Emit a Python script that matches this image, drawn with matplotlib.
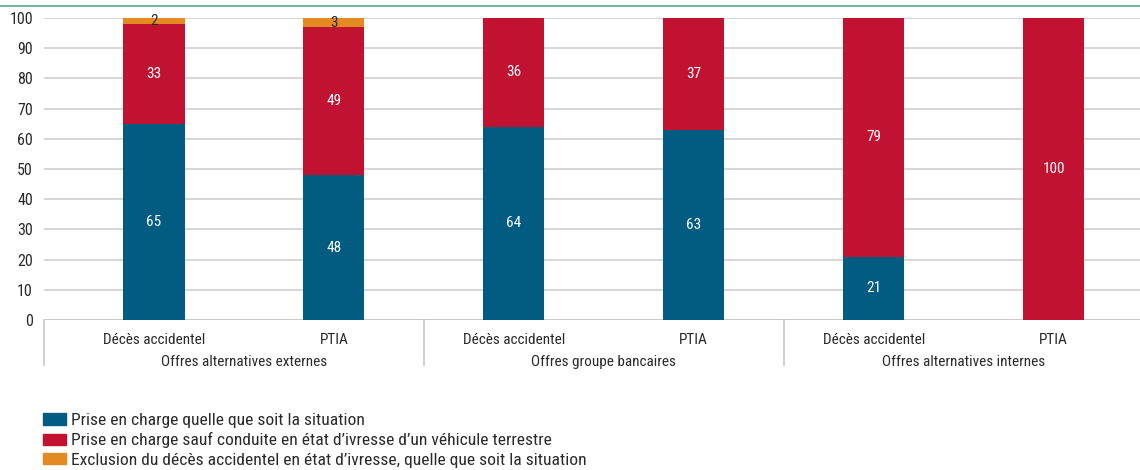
import numpy as np
import matplotlib
matplotlib.use("Agg")
import matplotlib.pyplot as plt
from matplotlib.patches import Patch
from matplotlib.lines import Line2D

plt.rcParams['font.family'] = ['Roboto Condensed', 'Liberation Sans', 'DejaVu Sans']

# data
bars = ["Décès accidentel", "PTIA", "Décès accidentel", "PTIA", "Décès accidentel", "PTIA"]
groups = ["Offres alternatives externes", "Offres groupe bancaires", "Offres alternatives internes"]
prise_totale = [65, 48, 64, 63, 21, 0]
sauf_ivresse = [33, 49, 36, 37, 79, 100]
exclusion = [2, 3, 0, 0, 0, 0]
series_names = ["Prise en charge quelle que soit la situation",
                "Prise en charge sauf conduite en état d\u2019ivresse d\u2019un véhicule terrestre",
                "Exclusion du décès accidentel en état d\u2019ivresse, quelle que soit la situation"]

blue = "#025b81"
red = "#c11331"
orange = "#e38a20"
txt = "#2a2a2a"
fs = 11

fig = plt.figure(figsize=(11.4, 4.7), dpi=100)
ax = fig.add_axes([44 / 1140, 1 - 320 / 470, 1096 / 1140, 302 / 470])

x = np.arange(len(bars))
w = 0.34
ax.bar(x, prise_totale, w, color=blue, zorder=3)
ax.bar(x, sauf_ivresse, w, bottom=prise_totale, color=red, zorder=3)
bottom3 = np.array(prise_totale) + np.array(sauf_ivresse)
ax.bar(x, exclusion, w, bottom=bottom3, color=orange, zorder=3)

# value labels
for i in range(len(bars)):
    if prise_totale[i] > 0:
        ax.text(x[i], prise_totale[i] / 2, str(prise_totale[i]), ha='center', va='center',
                color='white', fontsize=fs, zorder=4)
    if sauf_ivresse[i] > 0:
        ax.text(x[i], prise_totale[i] + sauf_ivresse[i] / 2, str(sauf_ivresse[i]), ha='center',
                va='center', color='white', fontsize=fs, zorder=4)
    if exclusion[i] > 0:
        ax.text(x[i], bottom3[i] + exclusion[i] / 2, str(exclusion[i]), ha='center', va='center',
                color=txt, fontsize=fs, zorder=4)

ax.set_xlim(-0.611, 5.48)
ax.set_ylim(0, 100)
ax.set_yticks(range(0, 101, 10))
ax.tick_params(axis='y', length=0, pad=8, labelsize=11.5, labelcolor=txt)
ax.yaxis.grid(True, color='#d0d0d0', linewidth=1.2, zorder=0)
ax.set_xticks([])
for s in ax.spines.values():
    s.set_visible(False)
ax.axhline(0, color='#c8c8c8', linewidth=1.2, zorder=2)

# two level category axis
trans = ax.get_xaxis_transform()
for i, lab in enumerate(bars):
    ax.text(x[i], -0.066, lab, transform=trans, ha='center', va='center',
            fontsize=fs, color=txt)
for g, name in enumerate(groups):
    ax.text(2 * g + 0.5, -0.139, name, transform=trans, ha='center', va='center',
            fontsize=fs, color=txt)
for sx in [-0.611, 1.5, 3.5]:
    ax.plot([sx, sx], [0, -0.149], transform=trans, color='#c8c8c8', linewidth=1.2,
            clip_on=False)

# green rule on top
fig.add_artist(Line2D([0, 1], [1 - 6 / 470, 1 - 6 / 470], color='#5ea98c', linewidth=1.2))

handles = [Patch(color=blue), Patch(color=red), Patch(color=orange)]
fig.legend(handles, series_names, loc='upper left', bbox_to_anchor=(43 / 1140, 1 - 413 / 470),
           frameon=False, fontsize=12.6, handlelength=1.31, handleheight=0.63,
           handletextpad=0.29, labelspacing=0.25, borderaxespad=0, borderpad=0,
           labelcolor=txt)

fig.savefig("out.png", dpi=100)
